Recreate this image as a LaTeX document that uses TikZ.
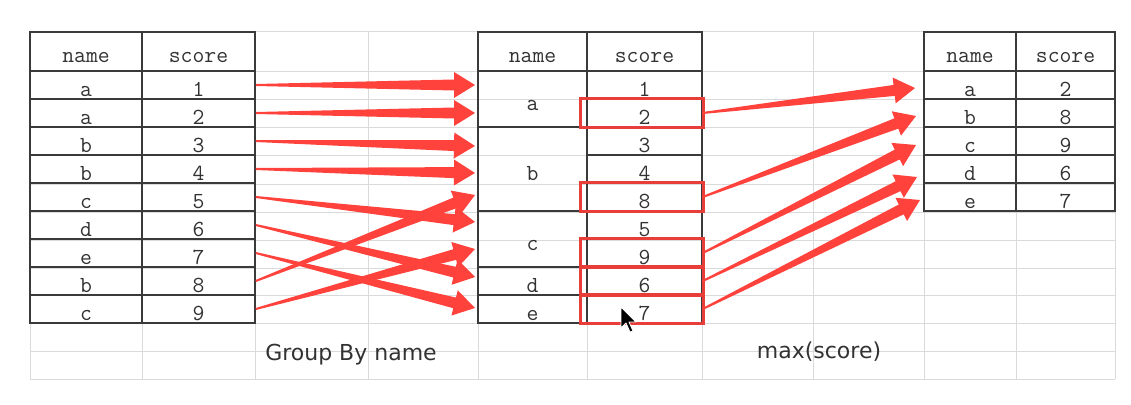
\documentclass[tikz,border=0pt]{standalone}
\usepackage{fontspec}
\setmainfont{DejaVu Sans}
\usetikzlibrary{calc}

\definecolor{gridgray}{RGB}{218,218,218}
\definecolor{linegray}{RGB}{58,58,58}
\definecolor{textgray}{RGB}{50,50,50}
\definecolor{arrowred}{RGB}{255,66,60}
\definecolor{boxred}{RGB}{232,62,58}

\begin{document}
\begin{tikzpicture}[x=1pt, y=-1pt,
  cell/.style={draw=linegray, line width=1.5pt, inner sep=0pt, minimum height=28pt, text=textgray, text height=23pt, text depth=0pt, font=\ttfamily\addfontfeatures{FakeBold=0.6}\fontsize{23}{26}\selectfont},
  head/.style={cell, minimum height=39pt},
  gridline/.style={draw=gridgray, line width=1pt},
  redbox/.style={draw=boxred, line width=3pt},
  caption/.style={anchor=base, text=textgray, font=\fontsize{22}{26}\selectfont},
  flow/.style={fill=arrowred, to path={
    -- ($(\tikztostart)!1pt!90:(\tikztotarget)$)
    -- ($(\tikztotarget)!21pt!(\tikztostart)!5.5pt!90:(\tikztotarget)$)
    -- ($(\tikztotarget)!21pt!(\tikztostart)!13pt!90:(\tikztotarget)$)
    -- (\tikztotarget)
    -- ($(\tikztotarget)!21pt!(\tikztostart)!13pt!-90:(\tikztotarget)$)
    -- ($(\tikztotarget)!21pt!(\tikztostart)!5.5pt!-90:(\tikztotarget)$)
    -- ($(\tikztostart)!1pt!-90:(\tikztotarget)$)
    -- cycle}}
]
  \useasboundingbox (0,0) rectangle (1131,404);

  % Sheet grid
  \foreach \x in {30,142,255,368,478,587,702,813,924,1016,1115}
    \draw[gridline] (\x,32) -- (\x,379);
  \foreach \y in {32,71,99,127,155,184,212,240,268,295,323,351,379}
    \draw[gridline] (30,\y) -- (1115,\y);

  % Source table
  \node[head, minimum width=112pt] (lh-n) at (86,51.5) {name};
  \node[head, minimum width=113pt] (lh-s) at (198.5,51.5) {score};
  \foreach \n/\s [count=\i] in {a/1,a/2,b/3,b/4,c/5,d/6,e/7,b/8,c/9} {
    \node[cell, minimum width=112pt] (ln\i) at (86,{57+28*\i}) {\n};
    \node[cell, minimum width=113pt] (ls\i) at (198.5,{57+28*\i}) {\s};
  }

  % Grouped table
  \node[head, minimum width=109pt] (mh-n) at (532.5,51.5) {name};
  \node[head, minimum width=115pt] (mh-s) at (644.5,51.5) {score};
  \node[cell, minimum width=109pt, minimum height=56pt] (mn-a) at (532.5,99) {a};
  \node[cell, minimum width=109pt, minimum height=84pt] (mn-b) at (532.5,169) {b};
  \node[cell, minimum width=109pt, minimum height=56pt] (mn-c) at (532.5,239) {c};
  \node[cell, minimum width=109pt] (mn-d) at (532.5,281) {d};
  \node[cell, minimum width=109pt] (mn-e) at (532.5,309) {e};
  \foreach \s [count=\i] in {1,2,3,4,8,5,9,6,7}
    \node[cell, minimum width=115pt] (ms\i) at (644.5,{57+28*\i}) {\s};

  % Result table
  \node[head, minimum width=92pt] (rh-n) at (970,51.5) {name};
  \node[head, minimum width=99pt] (rh-s) at (1065.5,51.5) {score};
  \foreach \n/\s [count=\i] in {a/2,b/8,c/9,d/6,e/7} {
    \node[cell, minimum width=92pt] (rn\i) at (970,{57+28*\i}) {\n};
    \node[cell, minimum width=99pt] (rs\i) at (1065.5,{57+28*\i}) {\s};
  }

  % Arrow targets
  \coordinate (gin1) at (475,85);
  \coordinate (gin2) at (475,113);
  \coordinate (gin3) at (475,146);
  \coordinate (gin4) at (475,173);
  \coordinate (gin5) at (475,222);
  \coordinate (gin6) at (475,277);
  \coordinate (gin7) at (475,308);
  \coordinate (gin8) at (475,195);
  \coordinate (gin9) at (475,249);
  \coordinate (max-a) at (915,88);
  \coordinate (max-b) at (916,116);
  \coordinate (max-c) at (916,145);
  \coordinate (max-d) at (917,177);
  \coordinate (max-e) at (920,200);

  % Group By arrows
  \foreach \i in {1,...,9}
    \path[flow] (ls\i.east) to (gin\i);

  % Max picks
  \foreach \i in {2,5,7,8,9}
    \draw[redbox] ([xshift=-6pt]ms\i.north west) rectangle ([xshift=1pt]ms\i.south east);
  \foreach \i/\r in {2/a,5/b,7/c,8/d,9/e}
    \path[flow] (ms\i.east) to (max-\r);

  % Captions
  \node[caption] (groupby) at (351,360) {Group By name};
  \node[caption] (maxscore) at (819,358) {max(score)};

  % Mouse pointer
  \draw[white, fill=black, line width=0.8pt, line join=round] (621,307) -- (621,328) -- (626,323) -- (630,332) -- (633,331) -- (629,322) -- (636,322) -- cycle;
\end{tikzpicture}
\end{document}
